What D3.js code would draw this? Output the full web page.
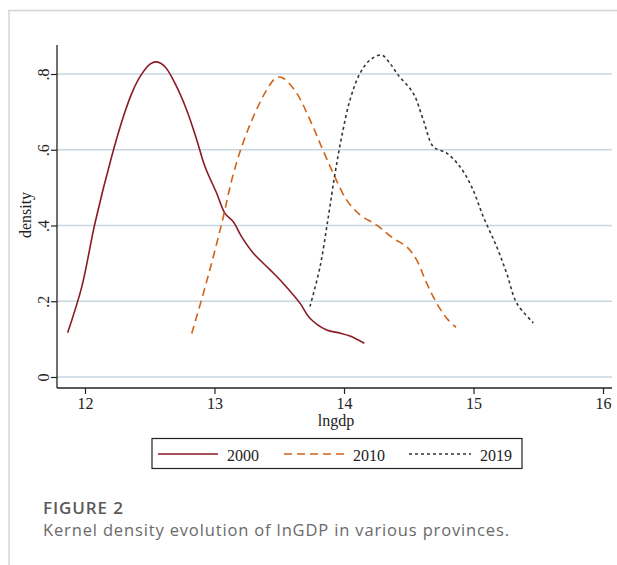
<!DOCTYPE html>
<html>
<head>
<meta charset="utf-8">
<script src="https://cdn.jsdelivr.net/npm/d3@7"></script>
<style>
  body { margin: 0; background: #fff; }
</style>
</head>
<body>
<div id="chart"></div>
<script>
const width = 617;
const height = 565;

// series: [lngdp, density]
const years = ['2000', '2010', '2019'];
const d2000 = [
  [11.866, 0.117], [11.975, 0.238], [12.077, 0.406], [12.206, 0.582], [12.296, 0.687],
  [12.361, 0.749], [12.425, 0.793], [12.502, 0.826], [12.554, 0.832], [12.618, 0.819],
  [12.695, 0.775], [12.785, 0.705], [12.863, 0.626], [12.927, 0.555], [13.017, 0.485],
  [13.081, 0.432], [13.145, 0.410], [13.210, 0.370], [13.300, 0.327], [13.429, 0.283],
  [13.531, 0.247], [13.660, 0.195], [13.737, 0.155], [13.866, 0.124], [13.969, 0.116],
  [14.046, 0.108], [14.157, 0.089]
];
const d2010 = [
  [12.824, 0.115], [12.914, 0.221], [12.991, 0.318], [13.068, 0.423], [13.133, 0.520],
  [13.210, 0.608], [13.300, 0.687], [13.403, 0.758], [13.480, 0.791], [13.531, 0.789],
  [13.635, 0.749], [13.737, 0.679], [13.830, 0.605], [13.923, 0.533], [14.021, 0.467],
  [14.124, 0.428], [14.253, 0.401], [14.381, 0.366], [14.484, 0.344], [14.561, 0.309],
  [14.639, 0.247], [14.716, 0.195], [14.793, 0.155], [14.865, 0.131]
];
const d2019 = [
  [13.737, 0.186], [13.815, 0.291], [13.879, 0.423], [13.931, 0.538], [13.982, 0.634],
  [14.046, 0.731], [14.124, 0.802], [14.201, 0.837], [14.291, 0.850], [14.355, 0.828],
  [14.419, 0.797], [14.535, 0.749], [14.612, 0.679], [14.690, 0.608], [14.793, 0.591],
  [14.896, 0.555], [14.986, 0.502], [15.076, 0.423], [15.179, 0.344], [15.256, 0.274],
  [15.334, 0.195], [15.462, 0.143]
];
const xTicks = [12, 13, 14, 15, 16];
const yTicks = [0, 0.2, 0.4, 0.6, 0.8];
const yTickLabels = ['0', '.2', '.4', '.6', '.8'];

const colors = ['#8a1a24', '#cf6318', '#2e382e'];
const dashes = [null, '8,5', '3,3'];
const serif = 'Liberation Serif, Times New Roman, serif';

const svg = d3.select('#chart').append('svg')
  .attr('width', width).attr('height', height);

// card outline
svg.append('line').attr('x1', 8).attr('x2', width).attr('y1', 10.5).attr('y2', 10.5)
  .attr('stroke', '#d4d4d4').attr('stroke-width', 1.5);
svg.append('line').attr('x1', 9).attr('x2', 9).attr('y1', 10).attr('y2', height)
  .attr('stroke', '#d4d4d4').attr('stroke-width', 1.5);

const plotLeft = 57, plotRight = 612, plotTop = 45, plotBottom = 388;
const x = d3.scaleLinear().domain([12, 16]).range([85, 603]);
const y = d3.scaleLinear().domain([0, 0.8]).range([377, 74]);

// gridlines
svg.append('g').selectAll('line').data(yTicks).join('line')
  .attr('x1', plotLeft).attr('x2', plotRight)
  .attr('y1', d => y(d)).attr('y2', d => y(d))
  .attr('stroke', '#c6d7e0').attr('stroke-width', 1.6);

// y axis
const yAxis = svg.append('g')
  .attr('transform', `translate(${plotLeft},0)`)
  .call(d3.axisLeft(y).tickValues(yTicks).tickSize(6).tickFormat((d, i) => yTickLabels[i]));
yAxis.select('.domain').remove();
yAxis.append('line').attr('x1', 0).attr('x2', 0).attr('y1', plotTop).attr('y2', plotBottom)
  .attr('stroke', '#222').attr('stroke-width', 1.3);
yAxis.selectAll('.tick line').attr('stroke', '#222').attr('stroke-width', 1.2);
yAxis.selectAll('.tick text')
  .attr('font-family', serif).attr('font-size', 16).attr('fill', '#222')
  .attr('text-anchor', 'middle').attr('dy', null)
  .attr('transform', 'rotate(-90)')
  .attr('x', 0).attr('y', -8);

// x axis
const xAxis = svg.append('g')
  .attr('transform', `translate(0,${plotBottom})`)
  .call(d3.axisBottom(x).tickValues(xTicks).tickSize(6).tickFormat(d3.format('d')));
xAxis.select('.domain').remove();
xAxis.append('line').attr('x1', plotLeft).attr('x2', plotRight).attr('y1', 0).attr('y2', 0)
  .attr('stroke', '#222').attr('stroke-width', 1.3);
xAxis.selectAll('.tick line').attr('stroke', '#222').attr('stroke-width', 1.2);
xAxis.selectAll('.tick text')
  .attr('font-family', serif).attr('font-size', 16).attr('fill', '#222')
  .attr('y', 10);

// axis titles
svg.append('text')
  .attr('x', 336).attr('y', 426)
  .attr('text-anchor', 'middle')
  .attr('font-family', serif).attr('font-size', 16).attr('fill', '#222')
  .text('lngdp');
svg.append('text')
  .attr('transform', `translate(31,215) rotate(-90)`)
  .attr('text-anchor', 'middle')
  .attr('font-family', serif).attr('font-size', 16).attr('fill', '#222')
  .text('density');

// curves
const line = d3.line()
  .x(d => x(d[0])).y(d => y(d[1]))
  .curve(d3.curveCatmullRom);
const series = [d2000, d2010, d2019];
svg.append('g').selectAll('path').data(series).join('path')
  .attr('d', line)
  .attr('fill', 'none')
  .attr('stroke', (d, i) => colors[i])
  .attr('stroke-width', 1.6)
  .attr('stroke-dasharray', (d, i) => dashes[i]);

// legend
const legend = svg.append('g');
legend.append('rect')
  .attr('x', 152).attr('y', 438.5).attr('width', 370).attr('height', 30)
  .attr('fill', '#fff').attr('stroke', '#222').attr('stroke-width', 1.2);
const legX = [158, 284, 409];
const item = legend.selectAll('g.item').data(years).join('g')
  .attr('class', 'item')
  .attr('transform', (d, i) => `translate(${legX[i]},454)`);
item.append('line')
  .attr('x1', 0).attr('x2', (d, i) => i === 2 ? 62 : 60)
  .attr('y1', 0).attr('y2', 0)
  .attr('stroke', (d, i) => colors[i]).attr('stroke-width', 1.6)
  .attr('stroke-dasharray', (d, i) => dashes[i]);
item.append('text')
  .attr('x', (d, i) => i === 2 ? 71 : 69).attr('y', 7)
  .attr('font-family', serif).attr('font-size', 16).attr('fill', '#222')
  .text(d => d);

// caption
svg.append('text')
  .attr('x', 43).attr('y', 514)
  .attr('font-family', 'Open Sans, sans-serif').attr('font-size', 17).attr('font-weight', 600)
  .attr('fill', '#5a5a5a')
  .attr('textLength', 80).attr('lengthAdjust', 'spacing')
  .text('FIGURE 2');
svg.append('text')
  .attr('x', 43).attr('y', 536)
  .attr('font-family', 'Open Sans, sans-serif').attr('font-size', 16.5)
  .attr('fill', '#6a6a6a')
  .attr('textLength', 466).attr('lengthAdjust', 'spacing')
  .text('Kernel density evolution of lnGDP in various provinces.');
</script>
</body>
</html>
